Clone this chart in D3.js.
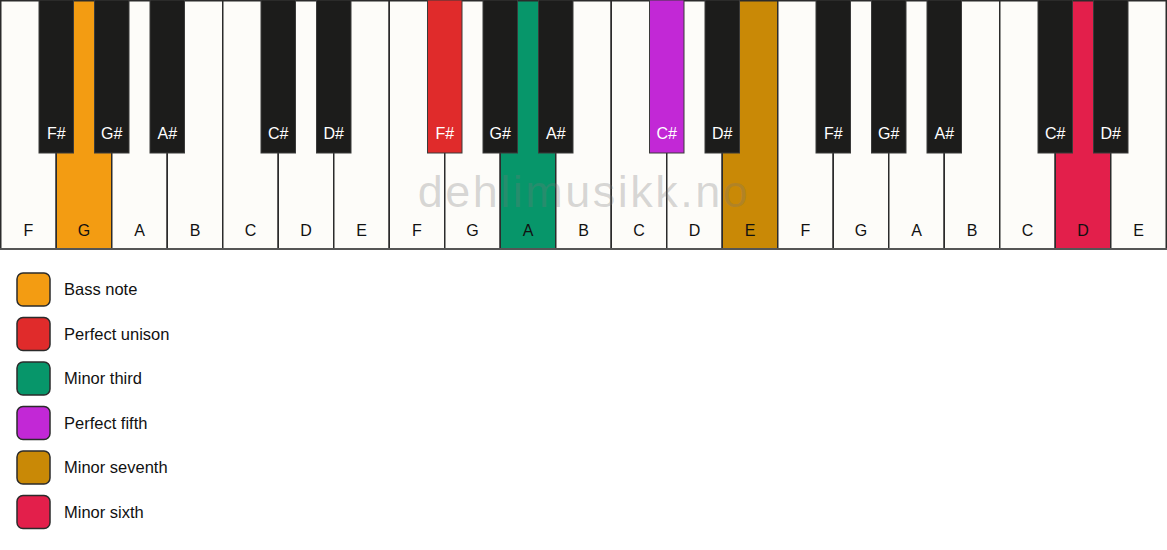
<!DOCTYPE html>
<html>
<head>
<meta charset="utf-8">
<script src="https://cdn.jsdelivr.net/npm/d3@7"></script>
<style>
  body { margin: 0; background: #fff; }
  svg { display: block; font-family: "Liberation Sans", Arial, sans-serif; }
</style>
</head>
<body>
<svg id="chart" width="1167" height="550"></svg>
<script>
// white keys, left to right
const whiteNotes = ["F", "G", "A", "B", "C", "D", "E",
                    "F", "G", "A", "B", "C", "D", "E",
                    "F", "G", "A", "B", "C", "D", "E"];
// black keys: boundary index (between white i-1 and i) and name
const blackPos = [1, 2, 3, 5, 6, 8, 9, 10, 12, 13, 15, 16, 17, 19, 20];
const blackNotes = ["F#", "G#", "A#", "C#", "D#",
                    "F#", "G#", "A#", "C#", "D#",
                    "F#", "G#", "A#", "C#", "D#"];

// intervals: legend labels + colours, and which key they mark
const intervals = ["Bass note", "Perfect unison", "Minor third", "Perfect fifth", "Minor seventh", "Minor sixth"];
const intervalColors = ["#f39c12", "#e02b2b", "#07966a", "#c228d6", "#c98906", "#e31f4b"];
const markedKeys = [
    { type: "white", index: 1 },
    { type: "black", index: 5 },
    { type: "white", index: 9 },
    { type: "black", index: 8 },
    { type: "white", index: 13 },
    { type: "white", index: 19 }
];

const width = 1167, kbHeight = 249, blackHeight = 153, blackWidth = 34.5;

const svg = d3.select("#chart");

const x = d3.scaleBand()
    .domain(d3.range(whiteNotes.length))
    .range([0.75, width - 0.75])
    .padding(0);

const colorFor = (type, i) => {
    const k = markedKeys.findIndex(m => m.type === type && m.index === i);
    return k < 0 ? null : intervalColors[k];
};

// white keys
const wg = svg.append("g");
wg.selectAll("rect")
    .data(whiteNotes)
    .join("rect")
    .attr("x", (d, i) => x(i))
    .attr("y", 0.75)
    .attr("width", x.bandwidth())
    .attr("height", kbHeight - 0.75)
    .attr("fill", (d, i) => colorFor("white", i) || "#fdfcf9")
    .attr("stroke", "#2b2b2b")
    .attr("stroke-width", 1.5);

wg.selectAll("text")
    .data(whiteNotes)
    .join("text")
    .attr("x", (d, i) => x(i) + x.bandwidth() / 2)
    .attr("y", 236)
    .attr("text-anchor", "middle")
    .style("font-size", "16px")
    .attr("fill", "#111")
    .text(d => d);

// bottom edge
svg.append("line")
    .attr("x1", 0).attr("x2", width)
    .attr("y1", kbHeight).attr("y2", kbHeight)
    .attr("stroke", "#555")
    .attr("stroke-width", 2);

// black keys
const bg = svg.append("g");
bg.selectAll("rect")
    .data(blackNotes)
    .join("rect")
    .attr("x", (d, i) => x(blackPos[i]) - blackWidth / 2)
    .attr("y", 0)
    .attr("width", blackWidth)
    .attr("height", blackHeight)
    .attr("fill", (d, i) => colorFor("black", i) || "#1c1c1b")
    .attr("stroke", "#3a3a3a")
    .attr("stroke-width", 1);

bg.selectAll("text")
    .data(blackNotes)
    .join("text")
    .attr("x", (d, i) => x(blackPos[i]))
    .attr("y", 139)
    .attr("text-anchor", "middle")
    .style("font-size", "16px")
    .attr("fill", "#fff")
    .text(d => d);

// watermark
svg.append("text")
    .attr("x", 584)
    .attr("y", 207)
    .attr("text-anchor", "middle")
    .style("font-size", "45px")
    .style("letter-spacing", "2.5px")
    .attr("fill", "#777")
    .attr("fill-opacity", 0.28)
    .text("dehlimusikk.no");

// legend
const legend = svg.append("g");
const rowY = i => 289.5 + i * 44.5;

legend.selectAll("rect")
    .data(intervals)
    .join("rect")
    .attr("x", 17)
    .attr("y", (d, i) => rowY(i) - 16.5)
    .attr("width", 33)
    .attr("height", 33)
    .attr("rx", 6)
    .attr("fill", (d, i) => intervalColors[i])
    .attr("stroke", "#2b2b2b")
    .attr("stroke-width", 1.5);

legend.selectAll("text")
    .data(intervals)
    .join("text")
    .attr("x", 64)
    .attr("y", (d, i) => rowY(i))
    .attr("dy", "0.35em")
    .style("font-size", "16.5px")
    .attr("fill", "#111")
    .text(d => d);
</script>
</body>
</html>
